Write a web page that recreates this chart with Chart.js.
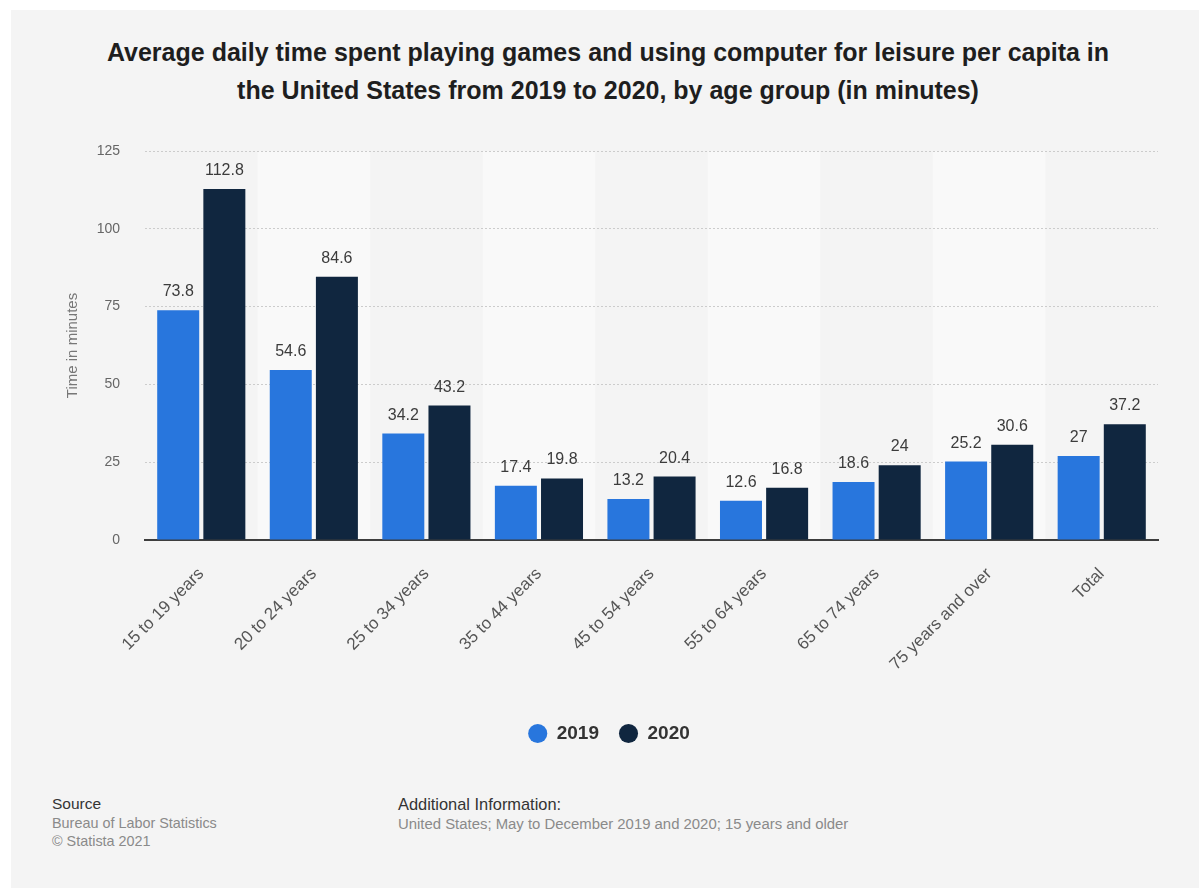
<!DOCTYPE html>
<html>
<head>
<meta charset="utf-8">
<script src="https://cdn.jsdelivr.net/npm/chart.js@4"></script>
<style>
  html, body { margin: 0; padding: 0; background: #ffffff; overflow: hidden; }
  body { width: 1199px; height: 888px; position: relative; font-family: "Liberation Sans", Arial, Helvetica, sans-serif; }
  #panel { position: absolute; left: 11px; top: 10px; width: 1188px; height: 878px; background: #f4f4f4; }
  #titulo { position: absolute; left: 0; top: 33px; width: 1216px; text-align: center;
            font-weight: bold; font-size: 25px; line-height: 38px; color: #1e1e1e; }
  #grafico { position: absolute; left: 11px; top: 130px; }
  .rodape { position: absolute; top: 795px; line-height: 18.5px; color: #8a8a8a; }
  .rodape b { font-weight: normal; color: #333333; font-size: 15.5px; }
</style>
</head>
<body>
<div id="panel"></div>
<div id="titulo">Average daily time spent playing games and using computer for leisure per capita in<br>the United States from 2019 to 2020, by age group (in minutes)</div>
<canvas id="grafico" width="1188" height="640"></canvas>
<div class="rodape" style="left:52px; font-size:14.4px"><b>Source</b><br>Bureau of Labor Statistics<br>© Statista 2021</div>
<div class="rodape" style="left:398px; font-size:14.9px"><b style="font-size:16.4px">Additional Information:</b><br>United States; May to December 2019 and 2020; 15 years and older</div>

<script>
// ========== DADOS ==========
const faixas = ["15 to 19 years", "20 to 24 years", "25 to 34 years", "35 to 44 years",
                "45 to 54 years", "55 to 64 years", "65 to 74 years", "75 years and over", "Total"];
const valores2019 = [73.8, 54.6, 34.2, 17.4, 13.2, 12.6, 18.6, 25.2, 27];
const valores2020 = [112.8, 84.6, 43.2, 19.8, 20.4, 16.8, 24, 30.6, 37.2];
const ticksY = [0, 25, 50, 75, 100, 125];

const FONTE = "'Liberation Sans', Arial, Helvetica, sans-serif";

// faixas alternadas atrás das barras
const faixasFundo = {
    id: "faixasFundo",
    beforeDraw(chart) {
        const { ctx, chartArea, scales } = chart;
        const passo = (chartArea.right - chartArea.left) / faixas.length;
        ctx.save();
        ctx.fillStyle = "#f9f9f9";
        faixas.forEach((f, i) => {
            if (i % 2 === 1) {
                const centro = scales.x.getPixelForValue(i);
                ctx.fillRect(centro - passo / 2, chartArea.top, passo, chartArea.bottom - chartArea.top);
            }
        });
        ctx.restore();
    }
};

// rótulos de valor acima de cada barra
const rotulosValor = {
    id: "rotulosValor",
    afterDatasetsDraw(chart) {
        const ctx = chart.ctx;
        ctx.save();
        ctx.font = "16px " + FONTE;
        ctx.fillStyle = "#3c3c3c";
        ctx.textAlign = "center";
        ctx.textBaseline = "alphabetic";
        chart.data.datasets.forEach((ds, d) => {
            chart.getDatasetMeta(d).data.forEach((barra, i) => {
                ctx.fillText(String(ds.data[i]), barra.x, barra.y - 14);
            });
        });
        ctx.restore();
    }
};

const ctx = document.getElementById("grafico").getContext("2d");
new Chart(ctx, {
    type: "bar",
    data: {
        labels: faixas,
        datasets: [
            { label: "2019", data: valores2019, backgroundColor: "#2876dd" },
            { label: "2020", data: valores2020, backgroundColor: "#10263f" }
        ]
    },
    options: {
        responsive: false,
        animation: false,
        devicePixelRatio: 1,
        categoryPercentage: 0.82,
        barPercentage: 0.91,
        // padding nas laterais para a legenda ficar centrada
        layout: { padding: { top: 21, right: 41, bottom: 17, left: 49 } },
        plugins: {
            legend: {
                position: "bottom",
                labels: {
                    usePointStyle: true,
                    pointStyle: "circle",
                    boxWidth: 19,
                    boxHeight: 13.5,
                    padding: 20,
                    color: "#333333",
                    font: { family: FONTE, size: 19, weight: "bold" }
                }
            },
            tooltip: { enabled: false }
        },
        scales: {
            x: {
                grid: { display: false },
                border: { display: true, color: "#3d3d3d", width: 2 },
                ticks: {
                    autoSkip: false,
                    minRotation: 45,
                    maxRotation: 45,
                    padding: 16,
                    color: "#555555",
                    font: { family: FONTE, size: 17 }
                },
                afterFit(escala) { escala.height = 164; }
            },
            y: {
                min: 0,
                max: 125,
                afterBuildTicks(escala) { escala.ticks = ticksY.map(v => ({ value: v })); },
                // tickLength invisível faz o afastamento dos rótulos sem inflar o padding do topo
                grid: { color: "#cccccc", lineWidth: 1, drawTicks: true, tickLength: 25, tickColor: "rgba(0,0,0,0)" },
                border: { display: false, dash: [2, 2] },
                ticks: {
                    padding: 0,
                    color: "#666666",
                    font: { family: FONTE, size: 14 }
                },
                title: {
                    display: true,
                    text: "Time in minutes",
                    color: "#777777",
                    padding: { top: 4, bottom: 0 },
                    font: { family: FONTE, size: 15 }
                },
                afterFit(escala) { escala.width = 85; }
            }
        }
    },
    plugins: [faixasFundo, rotulosValor]
});
</script>
</body>
</html>
